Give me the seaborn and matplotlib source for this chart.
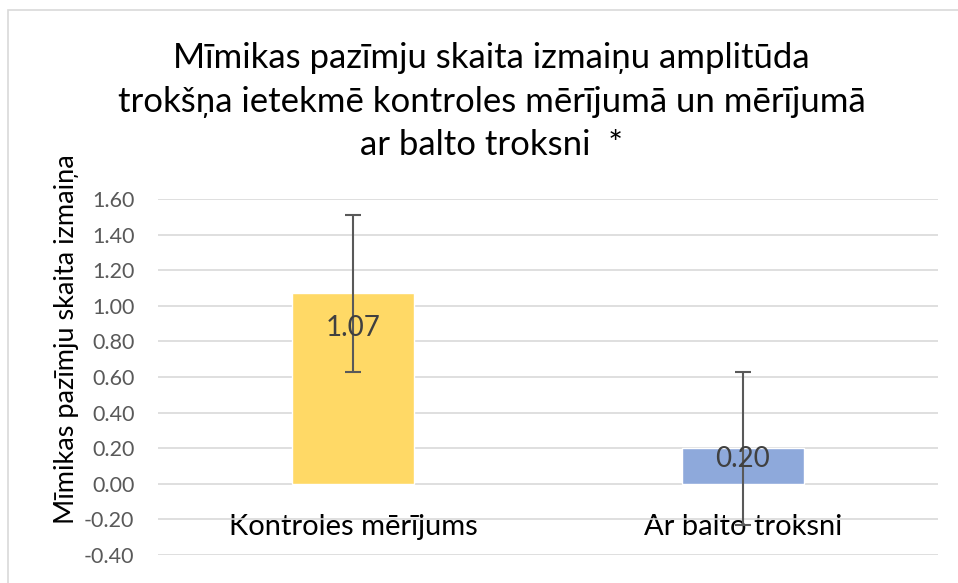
import matplotlib
matplotlib.use("Agg")
import matplotlib.pyplot as plt
import seaborn as sns
import pandas as pd
from matplotlib.patches import Rectangle

categories = ["Kontroles mērījums", "Ar balto troksni"]
values = [1.07, 0.20]
errors = [0.44, 0.43]
bar_colors = ["#FFD966", "#8EA9DB"]
y_ticks = [-0.40, -0.20, 0.00, 0.20, 0.40, 0.60, 0.80, 1.00, 1.20, 1.40, 1.60]
title = "Mīmikas pazīmju skaita izmaiņu amplitūda\ntrokšņa ietekmē kontroles mērījumā un mērījumā\nar balto troksni  *"
ylabel = "Mīmikas pazīmju skaita izmaiņa"

sns.set_style("white")
plt.rcParams["font.family"] = ["Lato", "DejaVu Sans"]

df = pd.DataFrame({"cat": categories, "val": values})

fig = plt.figure(figsize=(9.58, 5.83), dpi=100)
ax = fig.add_axes([158/958, 1-555/583, (938-158)/958, (555-199)/583])

sns.barplot(data=df, x="cat", y="val", hue="cat", palette=bar_colors,
            width=0.315, ax=ax, legend=False, saturation=1, zorder=2)
ax.errorbar(range(len(values)), values, yerr=errors, fmt="none",
            ecolor="#595959", elinewidth=1.5, capsize=6, capthick=1.5, zorder=4)

ax.set_ylim(y_ticks[0], y_ticks[-1])
ax.set_xlim(-0.5, len(categories) - 0.5)
ax.set_yticks(y_ticks)
ax.set_yticklabels([f"{t:.2f}" for t in y_ticks], color="#595959", fontsize=15.5)
ax.yaxis.grid(True, color="#D9D9D9", linewidth=1.2, zorder=0)
ax.set_axisbelow(True)
for s in ax.spines.values():
    s.set_visible(False)
ax.spines["bottom"].set_position(("data", 0))
ax.tick_params(axis="both", length=0)
ax.tick_params(axis="x", pad=22, labelsize=21, labelcolor="#000000")
ax.tick_params(axis="y", pad=17)
ax.set_xlabel("")
ax.set_ylabel(ylabel, fontsize=19.5, color="#000000")
ax.yaxis.set_label_coords(-0.101, 0.607)

offsets = [-22, 2]
for i, (v, off) in enumerate(zip(values, offsets)):
    ax.annotate(f"{v:.2f}", (i, v), xytext=(0, off), textcoords="offset pixels",
                ha="center", va="top", fontsize=20, color="#404040", zorder=5)

fig.text(0.513, 1-42/583, title, ha="center", va="top", fontsize=25,
         color="#000000", linespacing=1.45)

fig.patches.append(Rectangle((8/958, -0.1), 1.1, 1.1-10/583, transform=fig.transFigure,
                             fill=False, edgecolor="#D9D9D9", linewidth=1.2))

fig.savefig("out.png", dpi=100)
